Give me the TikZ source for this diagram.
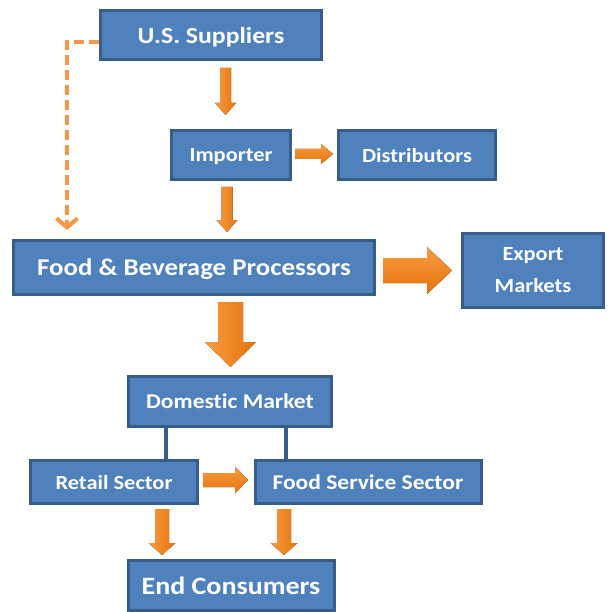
\documentclass[tikz,border=0pt]{standalone}
\usepackage{fontspec}
\usepackage{graphicx}
\setmainfont{Carlito}[Ligatures=NoCommon]
\usetikzlibrary{arrows.meta,calc}
\definecolor{boxfill}{HTML}{4F81BD}
\definecolor{boxline}{HTML}{385D8A}
\definecolor{orlight}{HTML}{F99B3E}
\definecolor{ordark}{HTML}{E4740F}
\definecolor{ordash}{HTML}{F79646}
\newcommand\fz[1]{\fontsize{#1}{#1}\selectfont\bfseries}
\newcommand\st[1]{\scalebox{1.12}[1]{#1}}
\newcommand\myvarrow[6]{\fill[top color=orlight,bottom color=ordark,shading angle=90] (#1-#4,#2) -- (#1+#4,#2) -- (#1+#4,#3-#6) -- (#1+#5,#3-#6) -- (#1,#3) -- (#1-#5,#3-#6) -- (#1-#4,#3-#6) -- cycle;}
\newcommand\myharrow[6]{\fill[top color=orlight,bottom color=ordark] (#2,#1-#4) -- (#2,#1+#4) -- (#3-#6,#1+#4) -- (#3-#6,#1+#5) -- (#3,#1) -- (#3-#6,#1-#5) -- (#3-#6,#1-#4) -- cycle;}
\begin{document}
\begin{tikzpicture}[x=1pt,y=-1pt,
  box/.style={draw=boxline,line width=3pt,fill=boxfill,text=white,inner sep=0pt,align=center,text depth=0pt},
  conn/.style={draw=boxline,line width=4pt},
  dashedarrow/.style={draw=ordash,line width=4pt,dash pattern=on 10pt off 5pt,-{Straight Barb[length=9pt,width=21pt]}}]
\useasboundingbox (0,0) rectangle (607,612);
\fill[white] (0,0) rectangle (607,612);
\coordinate (c1) at (166,0);
\coordinate (c2) at (286,0);
\coordinate (dk) at (67,0);
\coordinate (dend) at (67,230);
\node[box,minimum width=221pt,minimum height=49pt,font=\fz{23}] (sup) at (211,35) {\st{U.S. Suppliers}};
\node[box,minimum width=119pt,minimum height=49pt,font=\fz{20}] (imp) at (231,155) {\st{Importer}};
\node[box,minimum width=157pt,minimum height=49pt,font=\fz{20}] (dist) at (417,155) {\st{Distributors}};
\node[box,minimum width=361pt,minimum height=54pt,font=\fz{24}] (fbp) at (194,267.5) {\st{Food \& Beverage Processors}};
\node[box,minimum width=141pt,minimum height=74pt,font=\fontsize{20}{32}\selectfont\bfseries] (exp) at (533,270) {\st{Export}\\\st{Markets}};
\node[box,minimum width=203pt,minimum height=50pt,font=\fz{21}] (dom) at (230,401.5) {\st{Domestic Market}};
\draw[conn] (dom.south -| c1) -- (c1 |- 0,482);
\draw[conn] (dom.south -| c2) -- (c2 |- 0,482);
\node[box,minimum width=167pt,minimum height=43pt,font=\fz{20}] (ret) at (114,482) {\st{Retail Sector}};
\node[box,minimum width=226pt,minimum height=43pt,font=\fz{21}] (fss) at (368,482) {\st{Food Service Sector}};
\node[box,minimum width=206pt,minimum height=50pt,font=\fz{25}] (end) at (231,585.5) {\st{End Consumers}};
\draw[dashedarrow] ([yshift=-7pt]sup.west) -- ([yshift=-7pt]sup.west -| dk) -- (dend);
\myvarrow{225.5}{68}{115}{5.5}{10.5}{12}
\myvarrow{227}{187}{232}{5.5}{10.5}{12}
\myharrow{154}{295}{333}{5}{10}{12}
\myharrow{270.5}{383}{452}{12.5}{23.5}{25}
\myvarrow{230.5}{302}{367}{12.5}{25.5}{25}
\myharrow{480}{203}{248}{7}{13.5}{13}
\myvarrow{162}{509}{555}{7}{13.5}{12}
\myvarrow{284}{509}{555}{7}{13.5}{12}
\end{tikzpicture}
\end{document}
